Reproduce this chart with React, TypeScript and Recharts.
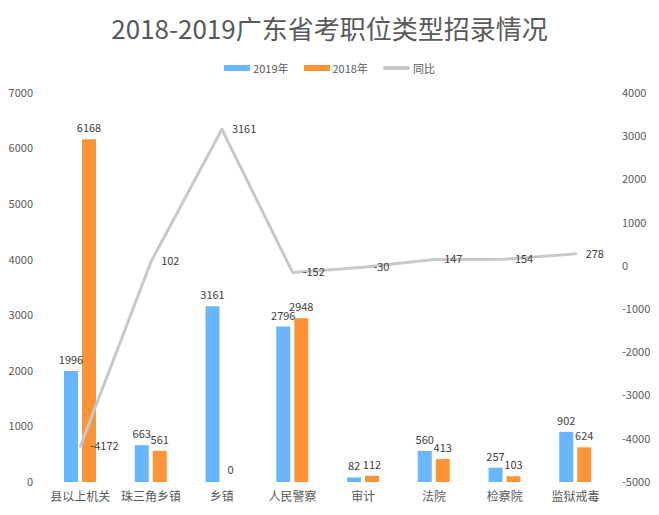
import React from 'react';
import { ComposedChart, Bar, Line, XAxis, YAxis, LabelList, Legend, Cell } from 'recharts';

const categories = ['县以上机关', '珠三角乡镇', '乡镇', '人民警察', '审计', '法院', '检察院', '监狱戒毒'];
const values2019 = [1996, 663, 3161, 2796, 82, 560, 257, 902];
const values2018 = [6168, 561, 0, 2948, 112, 413, 103, 624];
const yoy = [-4172, 102, 3161, -152, -30, 147, 154, 278];
const leftTicks = [0, 1000, 2000, 3000, 4000, 5000, 6000, 7000];
const rightTicks = [-5000, -4000, -3000, -2000, -1000, 0, 1000, 2000, 3000, 4000];

const data = categories.map((name, i) => ({
  name,
  y2019: values2019[i],
  y2018: values2018[i],
  yoy: yoy[i],
}));

const FONT = '"Noto Sans CJK SC", "Noto Sans", sans-serif';
const BLUE = '#6AB6FD';
const ORANGE = '#FE9438';
const GRAY = '#C8C8C8';
const TEXT = '#595959';
const LABEL = '#404040';

const renderLegend = () => (
  <div style={{ display: 'flex', justifyContent: 'center', alignItems: 'center', fontFamily: FONT, fontSize: 11, color: TEXT, height: 15 }}>
    <span style={{ display: 'inline-block', width: 26, height: 6, background: BLUE, marginRight: 3 }} />
    <span style={{ marginRight: 15 }}>2019年</span>
    <span style={{ display: 'inline-block', width: 26, height: 6, background: ORANGE, marginRight: 3 }} />
    <span style={{ marginRight: 15 }}>2018年</span>
    <span style={{ display: 'inline-block', width: 27, height: 4, borderRadius: 2, background: GRAY, marginRight: 3 }} />
    <span>同比</span>
  </div>
);

const topLabel = (props: any) => {
  const { x, y, width, value } = props;
  if (value === null || value === undefined) return null;
  return (
    <text x={Number(x) + Number(width) / 2} y={Number(y) - 7} textAnchor="middle" fill={LABEL} fontSize={11} fontFamily={FONT}>
      {value}
    </text>
  );
};

export default function App() {
  return (
    <div style={{ position: 'absolute', left: 0, top: 0, width: 659, height: 515, background: '#fff', fontFamily: FONT }}>
      <div style={{ position: 'absolute', top: 10, left: 0, width: 659, textAlign: 'center', fontSize: 26, color: TEXT, fontFamily: FONT, lineHeight: '36px' }}>
        2018-2019广东省考职位类型招录情况
      </div>
      <ComposedChart
        width={659}
        height={515}
        data={data}
        margin={{ top: 78, right: 0, left: 0, bottom: 0 }}
        barSize={14}
        barGap={4}
      >
        <Legend verticalAlign="top" content={renderLegend} wrapperStyle={{ top: 60, left: 0, width: 659 }} />
        <XAxis
          dataKey="name"
          axisLine={false}
          tickLine={false}
          tickSize={0}
          tickMargin={10}
          height={33}
          tick={{ fill: TEXT, fontSize: 12, fontFamily: FONT }}
          interval={0}
        />
        <YAxis
          yAxisId="left"
          orientation="left"
          domain={[0, 7000]}
          ticks={leftTicks}
          axisLine={false}
          tickLine={false}
          tickSize={0}
          tickMargin={12}
          width={45}
          tick={{ fill: TEXT, fontSize: 11, fontFamily: FONT }}
        />
        <YAxis
          yAxisId="right"
          orientation="right"
          domain={[-5000, 4000]}
          ticks={rightTicks}
          axisLine={false}
          tickLine={false}
          tickSize={0}
          tickMargin={11}
          width={48}
          tick={{ fill: TEXT, fontSize: 11, fontFamily: FONT, textAnchor: 'start' }}
        />
        <Bar yAxisId="left" dataKey="y2019" name="2019年" fill={BLUE} isAnimationActive={false}>
          <LabelList dataKey="y2019" content={topLabel} />
        </Bar>
        <Bar yAxisId="left" dataKey="y2018" name="2018年" fill={ORANGE} minPointSize={1} isAnimationActive={false}>
          {values2018.map((v, i) => (
            <Cell key={i} fill={v === 0 ? 'transparent' : ORANGE} />
          ))}
          <LabelList dataKey="y2018" content={topLabel} />
        </Bar>
        <Line
          yAxisId="right"
          dataKey="yoy"
          name="同比"
          type="linear"
          stroke={GRAY}
          strokeWidth={3}
          strokeLinecap="round"
          strokeLinejoin="round"
          dot={false}
          activeDot={false}
          isAnimationActive={false}
        >
          <LabelList dataKey="yoy" position="right" offset={10} fill={LABEL} fontSize={11} fontFamily={FONT} />
        </Line>
      </ComposedChart>
    </div>
  );
}
